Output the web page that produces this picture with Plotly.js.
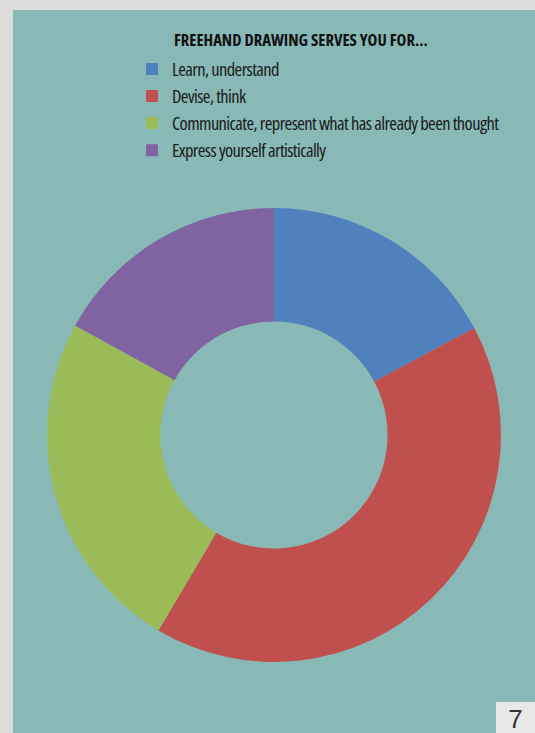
<!DOCTYPE html>
<html>
<head>
<meta charset="utf-8">
<script src="https://cdn.plot.ly/plotly-3.0.1.min.js"></script>
<style>
  html, body { margin: 0; padding: 0; width: 535px; height: 733px; background: #dcdcdc; overflow: hidden; }
  #chart { position: absolute; left: 13px; top: 10px; width: 522px; height: 723px; }
  svg text { font-stretch: 75% !important; }
  svg text.legendtext { letter-spacing: -0.6px; }
  #pagenum { position: absolute; left: 496px; top: 702px; width: 39px; height: 31px; background: #e8e8e8;
             font-family: "Liberation Sans", Arial, sans-serif; font-size: 26px; color: #333; text-align: center; line-height: 34px; }
</style>
</head>
<body>
<div id="chart"></div>
<div id="pagenum">7</div>
<script>
const chartTitle = "FREEHAND DRAWING SERVES YOU FOR...";
const categories = [
  "Learn, understand",
  "Devise, think",
  "Communicate, represent what has already been thought",
  "Express yourself artistically"
];
const shares = [17.2, 41.3, 24.5, 17.0];
const sliceColors = ["#4F81BD", "#C0504D", "#9BBB59", "#8064A2"];

const trace = {
  type: "pie",
  labels: categories,
  values: shares,
  hole: 0.5,
  sort: false,
  direction: "clockwise",
  rotation: 0,
  textinfo: "none",
  hoverinfo: "label+percent",
  marker: { colors: sliceColors, line: { width: 0 } },
  domain: { x: [0.0651, 0.9349], y: [0.0982, 0.7262] }
};

const layout = {
  width: 522,
  height: 723,
  margin: { l: 0, r: 0, t: 0, b: 0, autoexpand: false },
  paper_bgcolor: "#88B9B7",
  plot_bgcolor: "#88B9B7",
  showlegend: true,
  legend: {
    x: 0.228, xanchor: "left",
    y: 0.944, yanchor: "top",
    bgcolor: "rgba(0,0,0,0)",
    font: { family: "Open Sans", size: 18.5, color: "#1a1a1a" },
    traceorder: "normal"
  },
  annotations: [{
    text: "<b>" + chartTitle + "</b>",
    xref: "paper", yref: "paper",
    x: 0.3046, xanchor: "left",
    y: 0.9598, yanchor: "middle",
    showarrow: false,
    font: { family: "Open Sans", size: 16.6, color: "#111111" }
  }]
};

Plotly.newPlot("chart", [trace], layout, { displayModeBar: false, staticPlot: true });
</script>
</body>
</html>
